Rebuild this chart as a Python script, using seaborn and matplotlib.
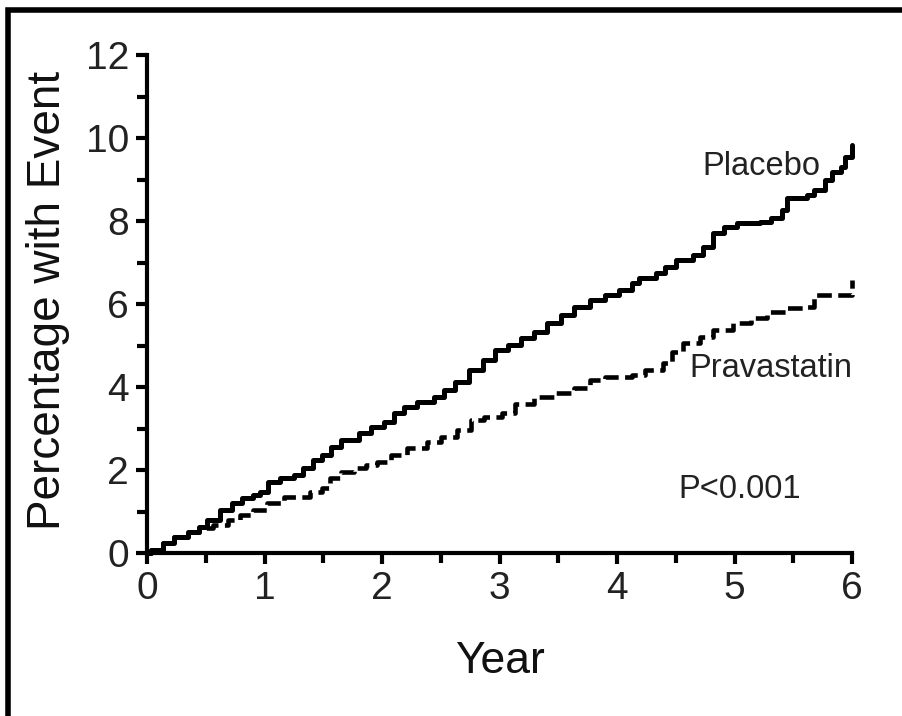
import matplotlib
matplotlib.use("Agg")
import matplotlib.pyplot as plt
from matplotlib.patches import Rectangle
from matplotlib.ticker import MultipleLocator
import numpy as np
import pandas as pd
import seaborn as sns

# Cumulative incidence (Kaplan-Meier style steps), percent with event by year
placebo_years = [0, 0.03, 0.14, 0.23, 0.35, 0.44, 0.51, 0.62, 0.72, 0.81,
                 0.90, 0.96, 1.03, 1.13, 1.25, 1.33, 1.41, 1.49, 1.57, 1.65,
                 1.80, 1.91, 2.02, 2.10, 2.19, 2.30, 2.44, 2.53, 2.62, 2.74,
                 2.86, 2.96, 3.07, 3.18, 3.29, 3.40, 3.52, 3.63, 3.77, 3.90,
                 4.02, 4.13, 4.19, 4.33, 4.41, 4.50, 4.65, 4.73, 4.82, 4.91,
                 5.02, 5.22, 5.31, 5.40, 5.45, 5.62, 5.68, 5.77, 5.83, 5.91,
                 5.94, 6.0]
placebo_pct = [0, 0.07, 0.24, 0.39, 0.51, 0.63, 0.80, 1.04, 1.20, 1.33,
               1.40, 1.47, 1.71, 1.81, 1.88, 2.05, 2.24, 2.36, 2.55, 2.72,
               2.89, 3.04, 3.16, 3.37, 3.52, 3.64, 3.76, 3.93, 4.12, 4.40,
               4.65, 4.89, 5.01, 5.18, 5.33, 5.54, 5.73, 5.93, 6.10, 6.22,
               6.34, 6.51, 6.63, 6.75, 6.89, 7.06, 7.18, 7.37, 7.71, 7.86,
               7.95, 7.98, 8.07, 8.27, 8.55, 8.63, 8.75, 8.99, 9.18, 9.30,
               9.54, 9.83]

prava_years = [0, 0.03, 0.14, 0.23, 0.35, 0.44, 0.56, 0.69, 0.79, 0.90,
               1.02, 1.17, 1.39, 1.49, 1.56, 1.65, 1.76, 1.86, 1.96, 2.08,
               2.21, 2.38, 2.50, 2.64, 2.76, 2.87, 3.02, 3.13, 3.29, 3.46,
               3.63, 3.77, 3.90, 4.13, 4.24, 4.39, 4.47, 4.56, 4.71, 4.82,
               4.99, 5.14, 5.28, 5.45, 5.62, 5.68, 6.0]
prava_pct = [0, 0.07, 0.24, 0.39, 0.51, 0.60, 0.67, 0.80, 0.92, 1.04,
             1.20, 1.35, 1.47, 1.57, 1.81, 1.95, 2.05, 2.12, 2.19, 2.36,
             2.53, 2.67, 2.80, 2.96, 3.20, 3.28, 3.38, 3.60, 3.76, 3.86,
             3.98, 4.17, 4.24, 4.29, 4.41, 4.58, 4.84, 5.06, 5.20, 5.37,
             5.54, 5.66, 5.81, 5.90, 5.93, 6.22, 6.58]

x_ticks = [0, 1, 2, 3, 4, 5, 6]
y_ticks = [0, 2, 4, 6, 8, 10, 12]

placebo = pd.DataFrame({"Year": placebo_years, "Pct": placebo_pct})
prava = pd.DataFrame({"Year": prava_years, "Pct": prava_pct})

sns.set_theme(style="ticks")
plt.rcParams["font.family"] = ["Liberation Sans", "DejaVu Sans"]

W, H = 902, 716
fig = plt.figure(figsize=(W / 100, H / 100), dpi=100)
ax = fig.add_axes([147 / W, 1 - 553 / H, (852 - 147) / W, (553 - 55) / H])

sns.lineplot(data=placebo, x="Year", y="Pct", ax=ax, color="black",
             linewidth=3.6, drawstyle="steps-post", estimator=None,
             sort=False, clip_on=False)
sns.lineplot(data=prava, x="Year", y="Pct", ax=ax, color="black",
             linewidth=3.3, drawstyle="steps-post", estimator=None,
             sort=False, clip_on=False, dashes=False,
             linestyle=(0, (3.2, 1.4)))

ax.set_xlim(0, 6)
ax.set_ylim(0, 12)
ax.set_xticks(x_ticks)
ax.set_yticks(y_ticks)
ax.xaxis.set_minor_locator(MultipleLocator(0.5))
ax.yaxis.set_minor_locator(MultipleLocator(1))

for side in ("top", "right"):
    ax.spines[side].set_visible(False)
for side in ("left", "bottom"):
    ax.spines[side].set_linewidth(3.0)
    ax.spines[side].set_color("black")

ax.tick_params(axis="both", which="major", direction="out", length=8,
               width=3.0, color="black", labelsize=28, labelcolor="#222222", pad=5)
ax.tick_params(axis="both", which="minor", direction="out", length=7,
               width=3.0, color="black")

ax.set_xlabel("Year", fontsize=32, color="#111111")
ax.xaxis.label.set_verticalalignment("baseline")
ax.xaxis.set_label_coords((500 - 147) / 705, (553 - 673) / 498)

ax.set_ylabel("Percentage with Event", fontsize=33, color="#111111")
ax.yaxis.label.set_verticalalignment("center")
ax.yaxis.set_label_coords((48 - 147) / 705, (553 - 300) / 498)

ax.text(4.73, 9.11, "Placebo", fontsize=23.5, color="#222222",
        ha="left", va="baseline")
ax.text(4.62, 4.24, "Pravastatin", fontsize=23.5, color="#222222",
        ha="left", va="baseline")
ax.text(4.52, 1.33, "P<0.001", fontsize=23.5, color="#222222",
        ha="left", va="baseline")

# Frame along the top and left edges of the figure
fig.add_artist(Rectangle((8 / W, -0.2), 1.5, 1.2 - 10 / H,
                         transform=fig.transFigure, fill=False,
                         edgecolor="black", linewidth=4.0))

fig.savefig("out.png", dpi=100, facecolor="white")
